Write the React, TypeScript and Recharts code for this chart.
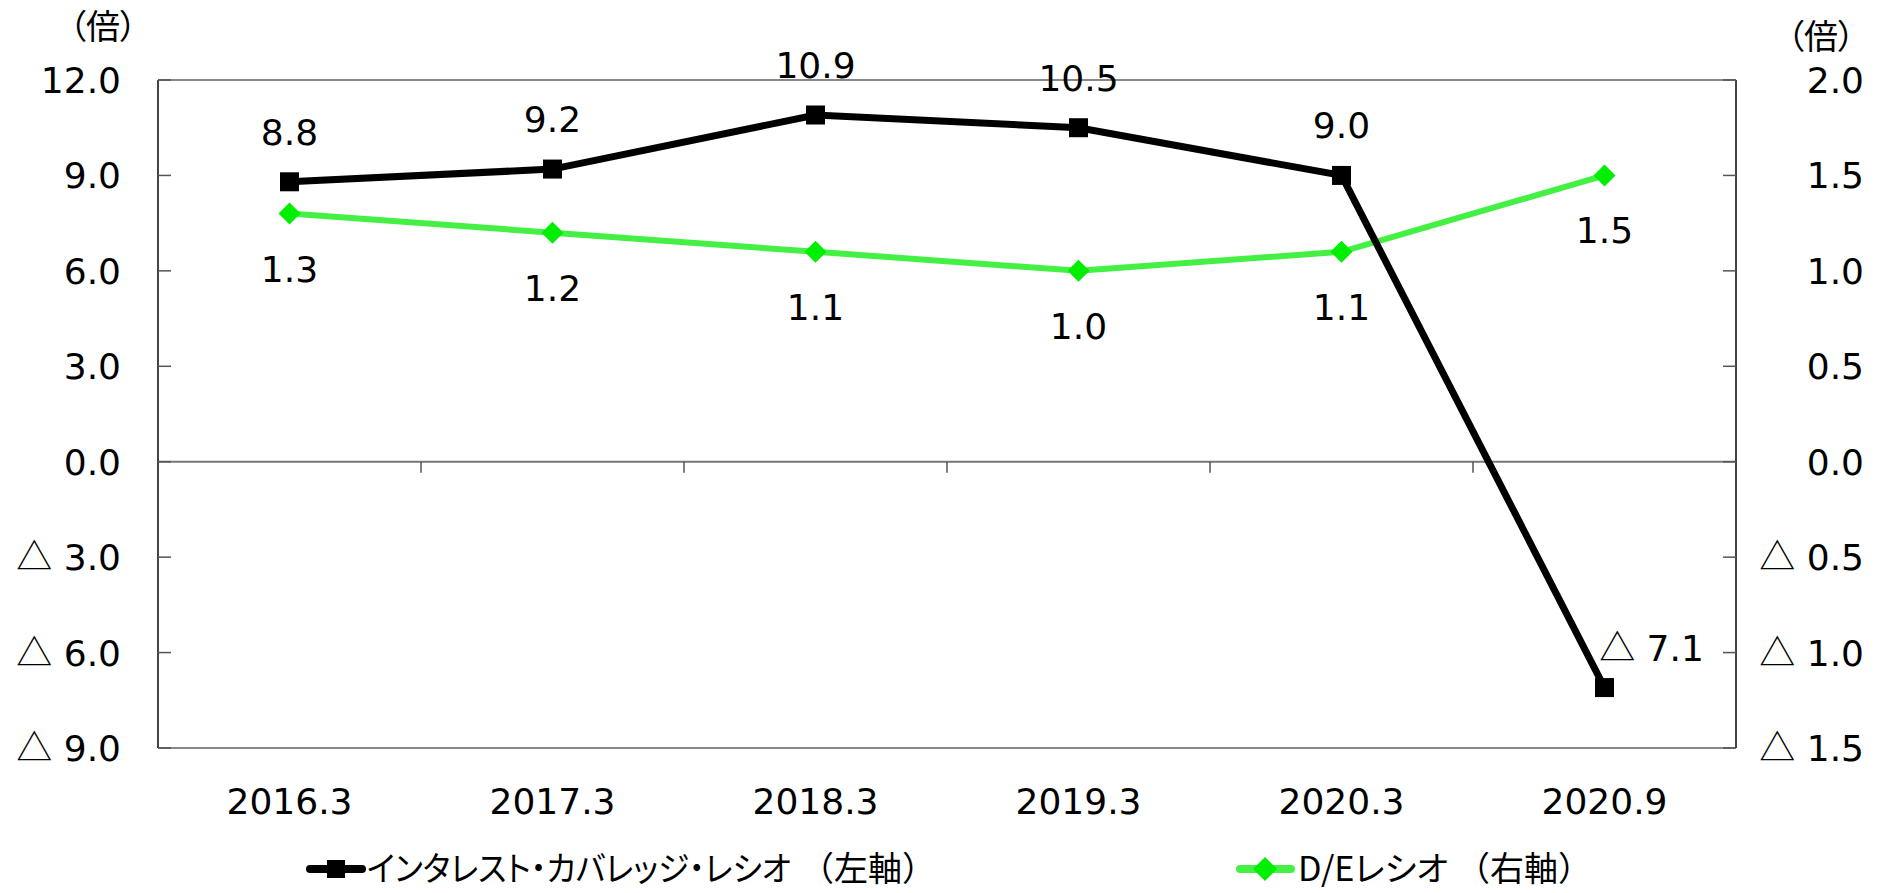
import React, { useLayoutEffect, useRef, useState } from 'react';
import { LineChart, Line, XAxis, YAxis, ReferenceLine, LabelList, Legend } from 'recharts';

const categories = ['2016.3', '2017.3', '2018.3', '2019.3', '2020.3', '2020.9'];
const icrValues = [8.8, 9.2, 10.9, 10.5, 9.0, -7.1];
const deValues = [1.3, 1.2, 1.1, 1.0, 1.1, 1.5];
const leftTicks = [-9, -6, -3, 0, 3, 6, 9, 12];
const rightTicks = [-1.5, -1, -0.5, 0, 0.5, 1, 1.5, 2];
const seriesMain = ['インタレスト・カバレッジ・レシオ', 'D/Eレシオ'];
const seriesAxis = ['（左軸）', '（右軸）'];
const unitLabel = '（倍）';

const data = categories.map((c, i) => ({ cat: c, icr: icrValues[i], de: deValues[i] }));

const NUM_FONT = '"DejaVu Sans", Verdana, sans-serif';
const JP_FONT = '"Noto Sans CJK JP", "DejaVu Sans", sans-serif';
const FS = 36;
const BLACK = '#000000';
const GREEN_LINE = '#44f044';
const GREEN_MARK = '#00ee00';

const NumText = ({ v }: { v: number }) =>
  v < 0 ? (
    <>
      <tspan fontFamily={JP_FONT}>△</tspan>
      <tspan>{` ${Math.abs(v).toFixed(1)}`}</tspan>
    </>
  ) : (
    <>{v.toFixed(1)}</>
  );

const AxisTick = (p: any) => (
  <text x={p.x} y={p.y} dy="0.36em" textAnchor="end" fontFamily={NUM_FONT} fontSize={FS} fill="#000">
    <NumText v={p.payload.value} />
  </text>
);
const XTick = (p: any) => (
  <text x={p.x} y={p.y} dy="0.36em" textAnchor="middle" fontFamily={NUM_FONT} fontSize={FS} fill="#000">
    {p.payload.value}
  </text>
);

const SquareDot = (p: any) => {
  const { cx, cy } = p;
  if (cx == null || cy == null) return null;
  const s = 19;
  return <rect x={cx - s / 2} y={cy - s / 2} width={s} height={s} fill={BLACK} />;
};
const DiamondDot = (p: any) => {
  const { cx, cy } = p;
  if (cx == null || cy == null) return null;
  const r = 11;
  return <polygon points={`${cx},${cy - r} ${cx + r},${cy} ${cx},${cy + r} ${cx - r},${cy}`} fill={GREEN_MARK} />;
};

const IcrLabel = (p: any) => {
  const { x, y, value } = p;
  const neg = value < 0;
  return (
    <text x={neg ? x + 47 : x} y={neg ? y - 40 : y - 50} dy="0.36em" textAnchor="middle" fontFamily={NUM_FONT} fontSize={FS} fill="#000">
      <NumText v={value} />
    </text>
  );
};
const DeLabel = (p: any) => {
  const { x, y, value } = p;
  return (
    <text x={x} y={y + 55} dy="0.36em" textAnchor="middle" fontFamily={NUM_FONT} fontSize={FS} fill="#000">
      <NumText v={value} />
    </text>
  );
};

const ZeroLine = (p: any) => {
  const { x1, x2, y1 } = p;
  const n = categories.length;
  const step = (x2 - x1) / n;
  const ticks = [];
  for (let k = 1; k < n; k++) {
    ticks.push(<line key={k} x1={x1 + k * step} x2={x1 + k * step} y1={y1} y2={y1 + 11} stroke="#555" strokeWidth={1.5} />);
  }
  return (
    <g>
      <line x1={x1} x2={x2} y1={y1} y2={y1} stroke="#777" strokeWidth={2} />
      {ticks}
    </g>
  );
};

const paltStyle: any = { fontFeatureSettings: '"palt"' };

const FitText = ({ x, y, width, fontSize, children }: any) => {
  const ref = useRef<SVGTextElement>(null);
  const [sx, setSx] = useState(1);
  useLayoutEffect(() => {
    if (ref.current) {
      const w = ref.current.getComputedTextLength();
      if (w > 0) setSx(width / w);
    }
  }, [width]);
  return (
    <text ref={ref} transform={`translate(${x},0) scale(${sx},1)`} x={0} y={y} dy="0.36em" fontFamily={JP_FONT} fontSize={fontSize} fill="#000" style={paltStyle}>
      {children}
    </text>
  );
};

const LH = 48;
const LEGEND_CY = 869;
const LegendContent = () => (
  <svg width={1904} height={LH} style={{ display: 'block', overflow: 'visible' }}>
    <line x1={310} x2={362} y1={LH / 2} y2={LH / 2} stroke={BLACK} strokeWidth={8} strokeLinecap="round" />
    <rect x={327} y={LH / 2 - 9} width={18} height={18} fill={BLACK} />
    <FitText x={367} y={LH / 2} width={424} fontSize={34}>{seriesMain[0]}</FitText>
    <text x={800} y={LH / 2} dy="0.36em" fontFamily={JP_FONT} fontSize={34} fill="#000">
      {seriesAxis[0]}
    </text>
    <line x1={1240} x2={1291} y1={LH / 2} y2={LH / 2} stroke={GREEN_LINE} strokeWidth={8} strokeLinecap="round" />
    <polygon points={`1265,${LH / 2 - 12} 1277,${LH / 2} 1265,${LH / 2 + 12} 1253,${LH / 2}`} fill={GREEN_MARK} />
    <FitText x={1298} y={LH / 2} width={150} fontSize={34}>{seriesMain[1]}</FitText>
    <text x={1456} y={LH / 2} dy="0.36em" fontFamily={JP_FONT} fontSize={34} fill="#000">
      {seriesAxis[1]}
    </text>
  </svg>
);

export default function App() {
  return (
    <div style={{ position: 'absolute', left: 0, top: 0, width: 1904, height: 893, background: '#fff' }}>
      <LineChart width={1904} height={893} data={data} margin={{ top: 80, right: 0, left: 0, bottom: 145 - 60 - LH }}>
        <XAxis dataKey="cat" scale="band" axisLine={false} tickLine={false} tickSize={0} tickMargin={53} height={60} tick={<XTick />} interval={0} />
        <YAxis
          yAxisId="left"
          orientation="left"
          width={158}
          domain={[-9, 12]}
          ticks={leftTicks}
          type="number"
          allowDataOverflow
          axisLine={{ stroke: '#444', strokeWidth: 2 }}
          tickLine={{ stroke: '#555', strokeWidth: 1.5 }}
          tickSize={-13}
          tickMargin={50}
          tick={<AxisTick />}
          interval={0}
        />
        <YAxis
          yAxisId="right"
          orientation="right"
          width={168}
          domain={[-1.5, 2]}
          ticks={rightTicks}
          type="number"
          allowDataOverflow
          axisLine={{ stroke: '#444', strokeWidth: 2 }}
          tickLine={{ stroke: '#555', strokeWidth: 1.5 }}
          tickSize={-13}
          tickMargin={141}
          tick={<AxisTick />}
          interval={0}
        />
        <ReferenceLine yAxisId="left" y={12} stroke="#888" strokeWidth={2} />
        <ReferenceLine yAxisId="left" y={-9} stroke="#888" strokeWidth={2} />
        <ReferenceLine yAxisId="left" y={0} shape={<ZeroLine />} />
        <Line yAxisId="right" dataKey="de" stroke={GREEN_LINE} strokeWidth={6} dot={<DiamondDot />} isAnimationActive={false} name={seriesMain[1] + seriesAxis[1]}>
          <LabelList dataKey="de" content={<DeLabel />} />
        </Line>
        <Line yAxisId="left" dataKey="icr" stroke={BLACK} strokeWidth={7} dot={<SquareDot />} isAnimationActive={false} name={seriesMain[0] + seriesAxis[0]}>
          <LabelList dataKey="icr" content={<IcrLabel />} />
        </Line>
        <text x={103} y={27} dy="0.36em" textAnchor="middle" fontFamily={JP_FONT} fontSize={34} fill="#000" style={paltStyle}>{unitLabel}</text>
        <text x={1821} y={37} dy="0.36em" textAnchor="middle" fontFamily={JP_FONT} fontSize={34} fill="#000" style={paltStyle}>{unitLabel}</text>
        <Legend content={<LegendContent />} wrapperStyle={{ position: 'absolute', top: LEGEND_CY - LH / 2, left: 0, bottom: 'auto', width: 1904, height: LH }} />
      </LineChart>
    </div>
  );
}
